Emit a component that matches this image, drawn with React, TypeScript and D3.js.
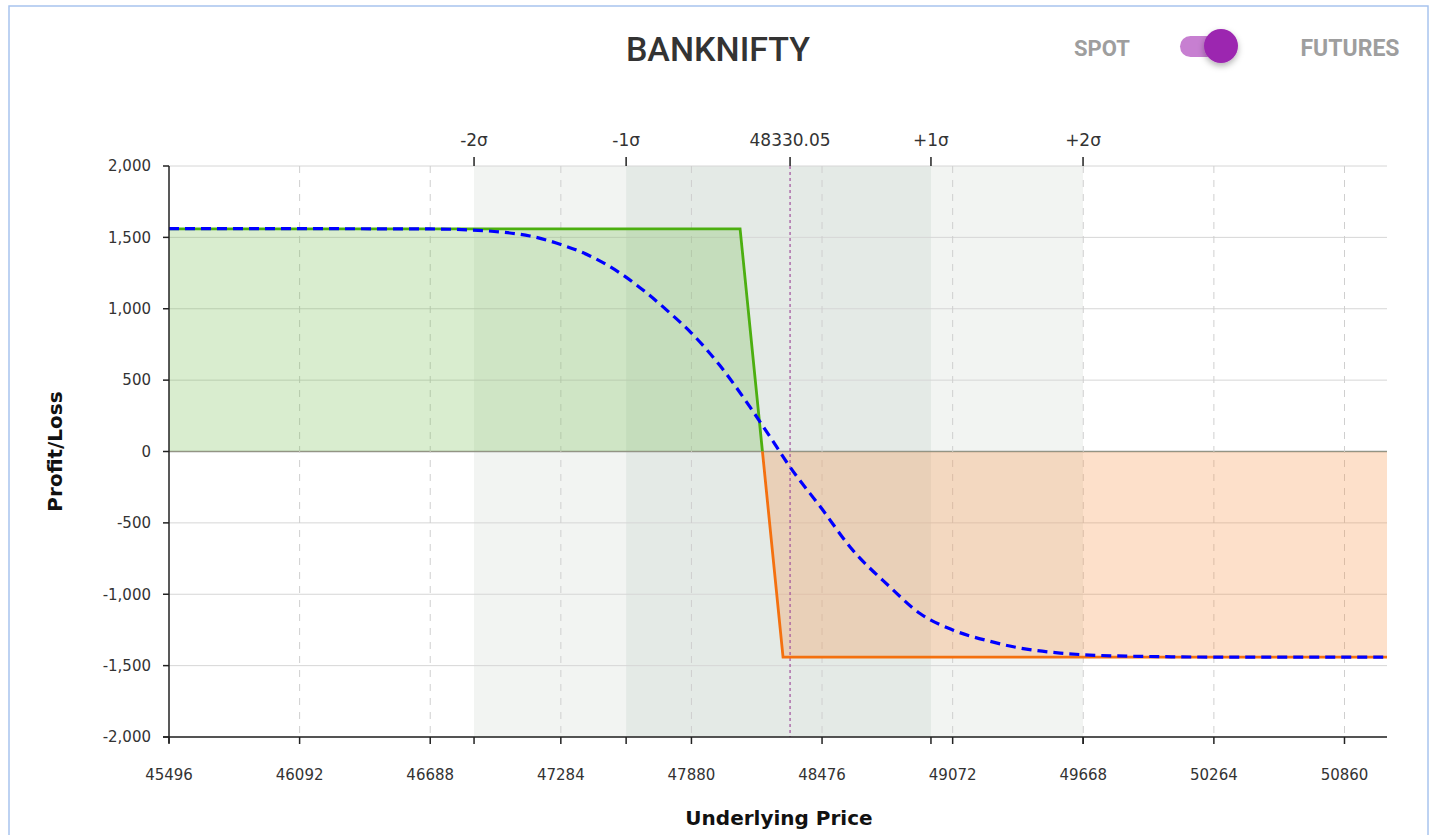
import React from "react";
import * as d3 from "d3";

// bottom axis ticks (underlying price)
const xTickValues = [45496, 46092, 46688, 47284, 47880, 48476, 49072, 49668, 50264, 50860];
const priceRange = [45496, 51054];
const yTickValues = [-2000, -1500, -1000, -500, 0, 500, 1000, 1500, 2000];

// standard deviation markers on the top axis
const sigmaLabels = ["-2σ", "-1σ", "+1σ", "+2σ"];
const sigmaPrices = [46888, 47582, 48973, 49667];
const spotPrice = 48330.05;
const spotLabel = "48330.05";

// payoff at expiry (vertices)
const expiryPrices = [45496, 48102, 48204, 48298, 51054];
const expiryPnl = [1560, 1560, 0, -1440, -1440];

// payoff today (T+0)
const todayPrices = [45496, 46092, 46688, 46870, 47007, 47143, 47284, 47417, 47554, 47668, 47782, 47880, 48010, 48147, 48239, 48330, 48476, 48604, 48786, 48923, 49072, 49243, 49380, 49562, 49699, 49973, 50264, 51054];
const todayPnl = [1562, 1561, 1559, 1552, 1538, 1510, 1450, 1370, 1250, 1120, 970, 830, 602, 312, 102, -109, -403, -669, -949, -1135, -1250, -1330, -1377, -1412, -1426, -1436, -1440, -1440];

const W = 1437;
const H = 835;
const left = 169;
const right = 1387;
const top = 166;
const bottom = 737;

const fmt = (v: number) => d3.format(",")(v).replace("−", "-");

export default function App() {
  const x = d3.scaleLinear().domain(priceRange).range([left, right]);
  const y = d3.scaleLinear().domain([-2000, 2000]).range([bottom, top]);
  const y0 = y(0);

  const expiry = expiryPrices.map((p, i) => [p, expiryPnl[i]] as [number, number]);
  const today = todayPrices.map((p, i) => [p, todayPnl[i]] as [number, number]);

  const line = d3.line<[number, number]>().x((d) => x(d[0])).y((d) => y(d[1]));
  const smooth = d3
    .line<[number, number]>()
    .x((d) => x(d[0]))
    .y((d) => y(d[1]))
    .curve(d3.curveMonotoneX);
  const area = d3
    .area<[number, number]>()
    .x((d) => x(d[0]))
    .y0(y0)
    .y1((d) => y(d[1]));

  const font = "'DejaVu Sans', Verdana, sans-serif";

  return (
    <div style={{ position: "absolute", left: 0, top: 0 }}>
      <svg width={W} height={H} style={{ display: "block", background: "#fff" }}>
        <defs>
          <clipPath id="above">
            <rect x={left} y={top} width={right - left} height={y0 - top} />
          </clipPath>
          <clipPath id="below">
            <rect x={left} y={y0} width={right - left} height={bottom - y0} />
          </clipPath>
          <filter id="knobShadow" x="-60%" y="-60%" width="220%" height="220%">
            <feDropShadow dx="0" dy="3" stdDeviation="3" floodColor="#000" floodOpacity="0.3" />
          </filter>
        </defs>

        {/* frame */}
        <rect x={9} y={6} width={1419} height={H + 10} fill="none" stroke="#a8c4ee" strokeWidth={1.5} />

        {/* header */}
        <text x={718} y={61} textAnchor="middle" fontFamily="Roboto" fontWeight={500} fontSize={34} fill="#333">
          BANKNIFTY
        </text>
        <text x={1102} y={56} textAnchor="middle" fontFamily="Roboto" fontWeight={700} fontSize={22} fill="#9e9e9e">
          SPOT
        </text>
        <rect x={1180} y={36} width={56} height={21} rx={10.5} fill="#c77fd1" />
        <circle cx={1221} cy={46} r={17} fill="#9c27b0" filter="url(#knobShadow)" />
        <text x={1350} y={56} textAnchor="middle" fontFamily="Roboto" fontWeight={700} fontSize={23} fill="#9e9e9e">
          FUTURES
        </text>

        {/* sigma bands */}
        <rect x={x(sigmaPrices[0])} y={top} width={x(sigmaPrices[3]) - x(sigmaPrices[0])} height={bottom - top} fill="#f2f4f2" />
        <rect x={x(sigmaPrices[1])} y={top} width={x(sigmaPrices[2]) - x(sigmaPrices[1])} height={bottom - top} fill="#e4eae6" />

        {/* grid */}
        {yTickValues.map((v) => (
          <line key={"gy" + v} x1={left} x2={right} y1={y(v)} y2={y(v)} stroke={v === 0 ? "#8f948f" : "#d6d6d6"} strokeWidth={v === 0 ? 1.6 : 1} />
        ))}
        {xTickValues.slice(1).map((v) => (
          <line key={"gx" + v} x1={x(v)} x2={x(v)} y1={top} y2={bottom} stroke="#cfcfcf" strokeWidth={1} strokeDasharray="7,7" />
        ))}

        {/* profit / loss fills */}
        <path d={area(expiry) || ""} fill="rgba(103,183,63,0.25)" clipPath="url(#above)" />
        <path d={area(expiry) || ""} fill="rgba(246,140,60,0.27)" clipPath="url(#below)" />

        {/* spot marker */}
        <line x1={x(spotPrice)} x2={x(spotPrice)} y1={top} y2={bottom} stroke="#a0509c" strokeWidth={1.2} strokeDasharray="3,3" />

        {/* expiry payoff */}
        <path d={line(expiry) || ""} fill="none" stroke="#4caf10" strokeWidth={2.8} clipPath="url(#above)" />
        <path d={line(expiry) || ""} fill="none" stroke="#f4700f" strokeWidth={2.8} clipPath="url(#below)" />

        {/* today's payoff */}
        <path d={smooth(today) || ""} fill="none" stroke="#0000ff" strokeWidth={3.2} strokeDasharray="10,6" />

        {/* left axis */}
        <line x1={left} x2={left} y1={top} y2={bottom + 6} stroke="#222" strokeWidth={1.5} />
        {yTickValues.map((v) => (
          <g key={"ty" + v}>
            <line x1={left - 6} x2={left} y1={y(v)} y2={y(v)} stroke="#222" strokeWidth={1.5} />
            <text x={left - 18} y={y(v)} dy="0.35em" textAnchor="end" fontFamily={font} fontSize={15} fill="#333">
              {fmt(v)}
            </text>
          </g>
        ))}

        {/* bottom axis */}
        <line x1={left - 6} x2={right} y1={bottom} y2={bottom} stroke="#222" strokeWidth={1.5} />
        {xTickValues.map((v) => (
          <g key={"tx" + v}>
            <line x1={x(v)} x2={x(v)} y1={bottom} y2={bottom + 7} stroke="#222" strokeWidth={1.5} />
            <text x={x(v)} y={bottom + 43} textAnchor="middle" fontFamily={font} fontSize={15} fill="#333">
              {v}
            </text>
          </g>
        ))}
        {sigmaPrices.map((v) => (
          <line key={"sb" + v} x1={x(v)} x2={x(v)} y1={bottom} y2={bottom + 7} stroke="#222" strokeWidth={1.5} />
        ))}

        {/* top axis */}
        {sigmaPrices.map((v, i) => (
          <g key={"st" + v}>
            <line x1={x(v)} x2={x(v)} y1={top - 9} y2={top} stroke="#222" strokeWidth={1.5} />
            <text x={x(v)} y={top - 20} textAnchor="middle" fontFamily={font} fontSize={17} fill="#333">
              {sigmaLabels[i]}
            </text>
          </g>
        ))}
        <line x1={x(spotPrice)} x2={x(spotPrice)} y1={top - 9} y2={top} stroke="#222" strokeWidth={1.5} />
        <text x={x(spotPrice)} y={top - 20} textAnchor="middle" fontFamily={font} fontSize={17} fill="#333">
          {spotLabel}
        </text>

        {/* axis titles */}
        <text transform={`translate(62,${y0}) rotate(-90)`} textAnchor="middle" fontFamily={font} fontWeight={700} fontSize={20} fill="#111">
          Profit/Loss
        </text>
        <text x={779} y={825} textAnchor="middle" fontFamily={font} fontWeight={700} fontSize={20} fill="#111">
          Underlying Price
        </text>
      </svg>
    </div>
  );
}
